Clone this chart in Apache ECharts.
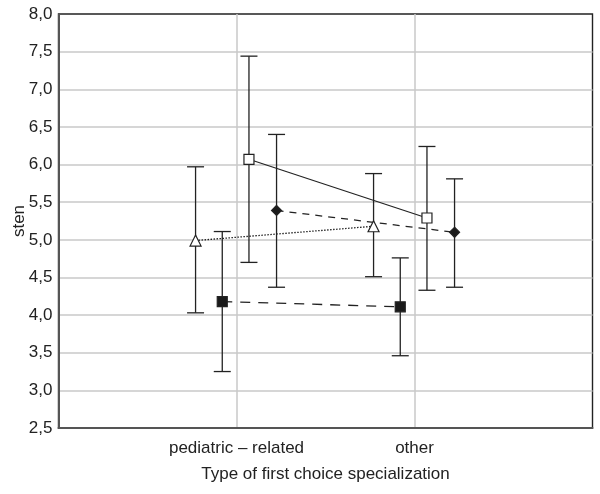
<!DOCTYPE html>
<html>
<head>
<meta charset="utf-8">
<script src="https://cdn.jsdelivr.net/npm/echarts@6/dist/echarts.min.js"></script>
<style>
  html, body { margin: 0; padding: 0; background: #fff; }
  #chart { width: 600px; height: 494px; }
</style>
</head>
<body>
<div id="chart"></div>
<script>
// Categories on the x axis (placed at 1 and 2 on a 0..3 value axis)
const categories = ['pediatric – related', 'other'];
const yTicks = [2.5, 3.0, 3.5, 4.0, 4.5, 5.0, 5.5, 6.0, 6.5, 7.0, 7.5, 8.0];

// Group means (sten) and their interval bounds, one value per category
const triangleMean = [4.99, 5.18];
const triangleLow  = [4.03, 4.51];
const triangleHigh = [5.97, 5.88];

const filledSquareMean = [4.18, 4.11];
const filledSquareLow  = [3.25, 3.46];
const filledSquareHigh = [5.11, 4.76];

const openSquareMean = [6.07, 5.29];
const openSquareLow  = [4.70, 4.33];
const openSquareHigh = [7.44, 6.24];

const diamondMean = [5.39, 5.10];
const diamondLow  = [4.37, 4.37];
const diamondHigh = [6.40, 5.81];

// Horizontal dodge of each group within a category
const dodge = { triangle: -0.23, filledSquare: -0.08, openSquare: 0.07, diamond: 0.225 };

const INK = '#222';
const GRID = '#c9c9c9';

function pointsOf(means, off) {
  return means.map((v, i) => [i + 1 + off, v]);
}
function barsOf(lows, highs, off) {
  return lows.map((lo, i) => [i + 1 + off, lo, highs[i]]);
}

function errorSeries(lows, highs, off) {
  return {
    type: 'custom',
    silent: true,
    z: 3,
    data: barsOf(lows, highs, off),
    encode: { x: 0, y: [1, 2] },
    renderItem: function (params, api) {
      const lo = api.coord([api.value(0), api.value(1)]);
      const hi = api.coord([api.value(0), api.value(2)]);
      const half = 8.5;
      const style = { stroke: INK, lineWidth: 1.3 };
      return {
        type: 'group',
        children: [
          { type: 'line', shape: { x1: lo[0], y1: lo[1], x2: hi[0], y2: hi[1] }, style: style },
          { type: 'line', shape: { x1: lo[0] - half, y1: lo[1], x2: lo[0] + half, y2: lo[1] }, style: style },
          { type: 'line', shape: { x1: hi[0] - half, y1: hi[1], x2: hi[0] + half, y2: hi[1] }, style: style }
        ]
      };
    }
  };
}

function meanSeries(means, off, symbol, size, fill, lineType, lineWidth) {
  return {
    type: 'line',
    z: 5,
    data: pointsOf(means, off),
    symbol: symbol,
    symbolSize: size,
    showSymbol: true,
    itemStyle: { color: fill, borderColor: INK, borderWidth: 1.2 },
    lineStyle: { color: INK, width: lineWidth, type: lineType },
    emphasis: { disabled: true },
    animation: false
  };
}

const fmt = v => v.toFixed(1).replace('.', ',');

// Grid lines only inside the frame; the outermost ones are left to the border
const xSplitColors = ['transparent', GRID, GRID, 'transparent'];
const ySplitColors = yTicks.map((t, i) => (i === 0 || i === yTicks.length - 1) ? 'transparent' : GRID);

const chart = echarts.init(document.getElementById('chart'), null, { renderer: 'canvas' });
chart.setOption({
  animation: false,
  backgroundColor: '#fff',
  textStyle: { fontFamily: 'Liberation Sans, Arial, sans-serif' },
  grid: {
    left: 58.5, right: 7.5, top: 14, bottom: 66,
    containLabel: false, outerBoundsMode: 'none',
    show: true, borderColor: '#222', borderWidth: 1.4
  },
  xAxis: {
    type: 'value',
    min: 0, max: 3, interval: 1,
    name: 'Type of first choice specialization',
    nameLocation: 'middle',
    nameGap: 38,
    nameMoveOverlap: false,
    nameTextStyle: { color: '#222', fontSize: 17 },
    axisLine: { show: true, lineStyle: { color: '#555', width: 2 } },
    axisTick: { show: false },
    axisLabel: {
      color: '#222', fontSize: 17, margin: 12,
      formatter: v => (v >= 1 && v <= categories.length) ? categories[v - 1] : ''
    },
    splitLine: { show: true, lineStyle: { color: xSplitColors, width: 1.5 } }
  },
  yAxis: {
    type: 'value',
    min: yTicks[0], max: yTicks[yTicks.length - 1], interval: 0.5,
    name: 'sten',
    nameLocation: 'middle',
    nameGap: 31,
    nameMoveOverlap: false,
    nameTextStyle: { color: '#222', fontSize: 17 },
    axisLine: { show: true, lineStyle: { color: '#555', width: 2 } },
    axisTick: { show: false },
    axisLabel: { color: '#222', fontSize: 17, margin: 6, formatter: fmt },
    splitLine: { show: true, lineStyle: { color: ySplitColors, width: 1.5 } }
  },
  series: [
    errorSeries(triangleLow, triangleHigh, dodge.triangle),
    errorSeries(filledSquareLow, filledSquareHigh, dodge.filledSquare),
    errorSeries(openSquareLow, openSquareHigh, dodge.openSquare),
    errorSeries(diamondLow, diamondHigh, dodge.diamond),
    meanSeries(triangleMean, dodge.triangle, 'triangle', 11, '#fff', [1.5, 1.5], 1.3),
    meanSeries(filledSquareMean, dodge.filledSquare, 'rect', 10, '#1a1a1a', [10, 8], 1.3),
    meanSeries(openSquareMean, dodge.openSquare, 'rect', 10, '#fff', 'solid', 1.2),
    meanSeries(diamondMean, dodge.diamond, 'diamond', 10, '#1a1a1a', [7, 6], 1.3)
  ]
});
</script>
</body>
</html>
